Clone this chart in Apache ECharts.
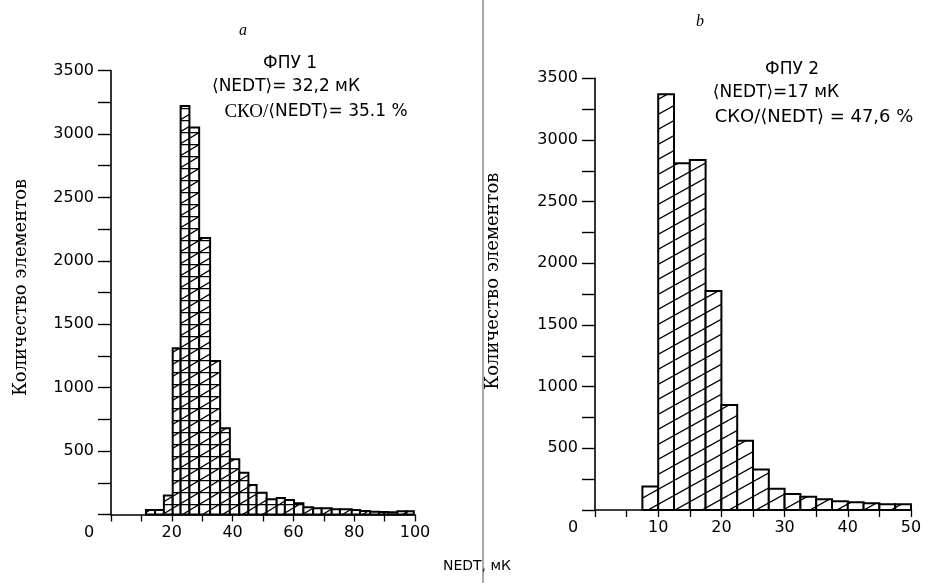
<!DOCTYPE html>
<html><head><meta charset="utf-8">
<script src="https://cdn.jsdelivr.net/npm/echarts@6/dist/echarts.min.js"></script>
<style>html,body{margin:0;padding:0;background:#fff}#c{width:927px;height:583px}</style>
</head><body><div id="c"></div>
<script>
// ---- data ----
const leftEdges = [11.5, 14.5, 17.4, 20.3, 22.9, 25.8, 29.0, 32.6, 35.9, 39.1, 42.2, 45.2, 47.9, 51.2, 54.5, 57.2, 60.2, 63.3, 66.5, 69.3, 72.6, 75.3, 79.2, 81.9, 85.2, 88.2, 91.2, 94.2, 97.2, 99.6];
const leftCounts = [35, 35, 150, 1310, 3220, 3050, 2180, 1210, 680, 435, 330, 232, 172, 120, 130, 114, 88, 57, 49, 49, 41, 41, 35, 28, 22, 20, 18, 25, 25];
const rightEdges = [7.5, 10, 12.5, 15, 17.5, 20, 22.5, 25, 27.5, 30, 32.5, 35, 37.5, 40, 42.5, 45, 47.5, 50];
const rightCounts = [190, 3370, 2812, 2838, 1776, 852, 562, 328, 172, 130, 108, 87, 70, 62, 54, 46, 46];
const yTickLabels = [500, 1000, 1500, 2000, 2500, 3000, 3500];
const leftXLabels = [0, 20, 40, 60, 80, 100];
const rightXLabels = [0, 10, 20, 30, 40, 50];
const yName = 'Количество элементов';
const xName = 'NEDT, мК';

function bins(edges, counts) {
  return counts.map((c, i) => [edges[i], edges[i + 1], c]);
}

function hatch(w, h, horiz) {
  const c = document.createElement('canvas');
  c.width = w; c.height = h;
  const g = c.getContext('2d');
  g.fillStyle = '#fff'; g.fillRect(0, 0, w, h);
  g.strokeStyle = '#000'; g.lineWidth = 1.3;
  g.beginPath();
  for (let k = -1; k <= 1; k++) { g.moveTo(0, h + k * h); g.lineTo(w, k * h); }
  if (horiz) { g.moveTo(0, 0.6); g.lineTo(w, 0.6); }
  g.stroke();
  return c;
}
const patLeft = { image: hatch(20, 12, true), repeat: 'repeat' };
const patRight = { image: hatch(27, 15, false), repeat: 'repeat' };

function makeRender(pat) {
  return function (params, api) {
    const p0 = api.coord([api.value(0), 0]);
    const p1 = api.coord([api.value(1), api.value(2)]);
    return {
      type: 'rect',
      shape: { x: p0[0], y: p1[1], width: p1[0] - p0[0], height: p0[1] - p1[1] },
      style: { fill: pat, stroke: '#000', lineWidth: 2 }
    };
  };
}

const sans = 'DejaVu Sans';

function xAxis(gi, max, interval, labels) {
  return {
    gridIndex: gi, type: 'value', min: 0, max: max, interval: interval,
    axisLine: { show: true, onZero: false, lineStyle: { color: '#000', width: 1.6 } },
    axisTick: { show: true, length: 7, lineStyle: { color: '#000', width: 1.3 } },
    splitLine: { show: false },
    axisLabel: {
      margin: 10, color: '#000', fontFamily: sans, fontSize: 16,
      formatter: v => labels.includes(v) ? (v === 0 ? '{z|0}' : String(v)) : '',
      rich: { z: { padding: [0, 44, 0, 0], fontFamily: sans, fontSize: 16, color: '#000' } }
    }
  };
}
function yAxis(gi, gap, shiftUp) {
  return {
    gridIndex: gi, type: 'value', min: 0, max: 3500, interval: 250,
    axisLine: { show: true, lineStyle: { color: '#000', width: 1.6 } },
    axisTick: { show: true, length: 13, lineStyle: { color: '#000', width: 1.4 } },
    splitLine: { show: false },
    axisLabel: {
      margin: 17, color: '#000', fontFamily: sans, fontSize: 16,
      formatter: v => yTickLabels.includes(v) ? String(v) : ''
    },
    name: yName, nameLocation: 'middle', nameRotate: 90, nameGap: gap,
    nameTextStyle: { fontFamily: 'DejaVu Serif', fontSize: 18, color: '#000', padding: [0, 0, 0, shiftUp] }
  };
}

const chart = echarts.init(document.getElementById('c'), null, { renderer: 'canvas' });
chart.setOption({
  backgroundColor: '#fff',
  animation: false,
  grid: [
    { left: 111, top: 70.5, width: 304, height: 444 },
    { left: 595, top: 78.3, width: 316, height: 431.7 }
  ],
  xAxis: [xAxis(0, 100, 10, leftXLabels), xAxis(1, 50, 5, rightXLabels)],
  yAxis: [yAxis(0, 81, 10), yAxis(1, 93, 26)],
  series: [
    { type: 'custom', xAxisIndex: 0, yAxisIndex: 0, data: bins(leftEdges, leftCounts),
      encode: { x: [0, 1], y: 2 }, renderItem: makeRender(patLeft) },
    { type: 'custom', xAxisIndex: 1, yAxisIndex: 1, data: bins(rightEdges, rightCounts),
      encode: { x: [0, 1], y: 2 }, renderItem: makeRender(patRight) }
  ],
  graphic: [
    { type: 'line', shape: { x1: 483, y1: 0, x2: 483, y2: 583 }, style: { stroke: '#555', lineWidth: 1 }, z: 100 },
    { type: 'text', x: 243, y: 31, style: { text: 'a', font: 'italic 16px "Liberation Serif"', fill: '#000', align: 'center', verticalAlign: 'middle' } },
    { type: 'text', x: 700, y: 22, style: { text: 'b', font: 'italic 16px "Liberation Serif"', fill: '#000', align: 'center', verticalAlign: 'middle' } },
    { type: 'text', x: 290, y: 64, style: { text: 'ФПУ 1', font: '17px "DejaVu Sans"', fill: '#000', align: 'center', verticalAlign: 'middle' } },
    { type: 'text', x: 286, y: 87, style: { text: '⟨NEDT⟩= 32,2 мК', font: '17px "DejaVu Sans"', fill: '#000', align: 'center', verticalAlign: 'middle' } },
    { type: 'text', x: 316, y: 112, style: { text: '{s|СКО/}{n|⟨NEDT⟩= 35.1 %}', align: 'center', verticalAlign: 'middle',
        rich: { s: { font: '19px "Liberation Serif"', fill: '#000' }, n: { font: '17px "DejaVu Sans"', fill: '#000' } } } },
    { type: 'text', x: 792, y: 70, style: { text: 'ФПУ 2', font: '17px "DejaVu Sans"', fill: '#000', align: 'center', verticalAlign: 'middle' } },
    { type: 'text', x: 776, y: 93, style: { text: '⟨NEDT⟩=17 мК', font: '17px "DejaVu Sans"', fill: '#000', align: 'center', verticalAlign: 'middle' } },
    { type: 'text', x: 814, y: 117, style: { text: 'СКО/⟨NEDT⟩ = 47,6 %', font: '18px "DejaVu Sans"', fill: '#000', align: 'center', verticalAlign: 'middle' } },
    { type: 'text', x: 477, y: 566, style: { text: xName, font: '14px "DejaVu Sans"', fill: '#000', align: 'center', verticalAlign: 'middle' } }
  ]
});
</script></body></html>
